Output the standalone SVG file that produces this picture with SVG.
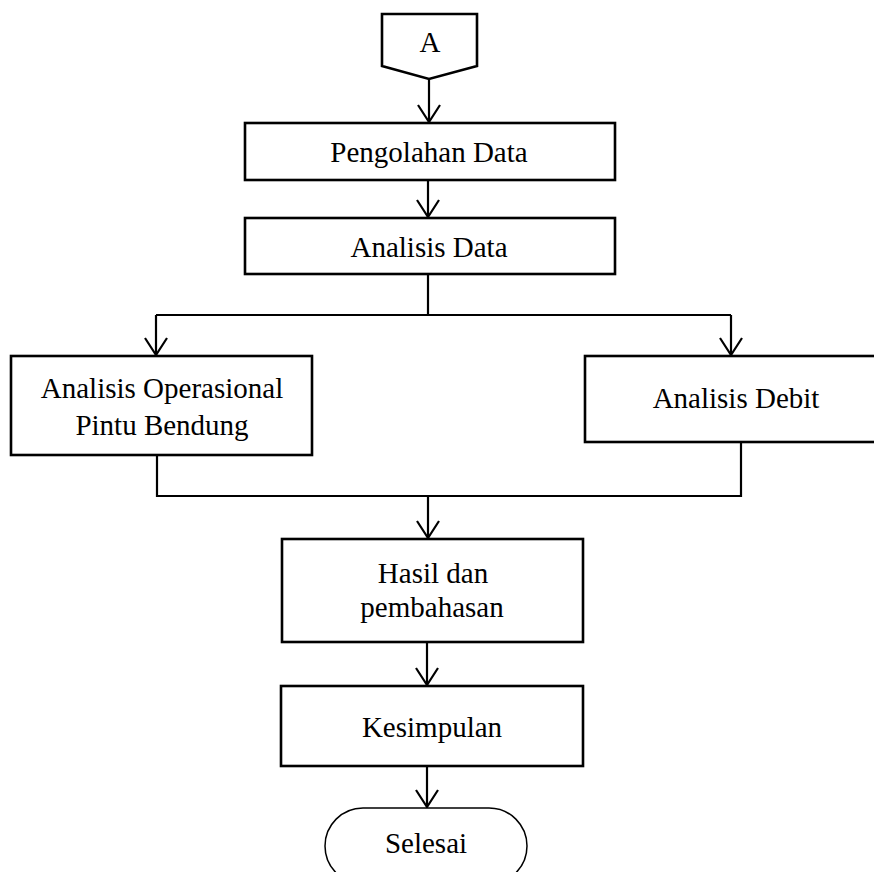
<svg xmlns="http://www.w3.org/2000/svg" width="874" height="872" viewBox="0 0 874 872">
<style>
.n{fill:#fff;stroke:#000;stroke-width:2.6}
.t{font-family:"Liberation Serif","Times New Roman",serif;font-size:29px;fill:#000;text-anchor:middle}
.c{fill:none;stroke:#000;stroke-width:2.2}
</style>
<defs>
<marker id="ah" markerUnits="userSpaceOnUse" markerWidth="24" markerHeight="28" viewBox="-20 -14 24 28" refX="0" refY="0" orient="auto">
<path d="M-17,-11 L0,0 L-17,11" fill="none" stroke="#000" stroke-width="2.2"/>
</marker>
</defs>
<rect width="874" height="872" fill="#fff"/>
<g id="connectors">
<path class="c" d="M429,79 V122" marker-end="url(#ah)"/>
<path class="c" d="M428,180 V217" marker-end="url(#ah)"/>
<path class="c" d="M428,274 V315"/>
<path class="c" d="M156,315 H731"/>
<path class="c" d="M156,315 V355" marker-end="url(#ah)"/>
<path class="c" d="M731,315 V355" marker-end="url(#ah)"/>
<path class="c" d="M157,455 V496 H741 V442"/>
<path class="c" d="M428,496 V538" marker-end="url(#ah)"/>
<path class="c" d="M427,642 V685" marker-end="url(#ah)"/>
<path class="c" d="M427,766 V807" marker-end="url(#ah)"/>
</g>
<g id="nA">
<polygon class="n" points="382,14 477,14 477,66 429,79 382,66"/>
<text class="t" x="430" y="52">A</text>
</g>
<g id="nPengolahan">
<rect class="n" x="245" y="123" width="370" height="57"/>
<text class="t" x="429" y="162">Pengolahan Data</text>
</g>
<g id="nAnalisisData">
<rect class="n" x="245" y="218" width="370" height="56"/>
<text class="t" x="429" y="257">Analisis Data</text>
</g>
<g id="nOperasional">
<rect class="n" x="11" y="356" width="301" height="99"/>
<text class="t" x="162" y="398">Analisis Operasional</text>
<text class="t" x="162" y="435">Pintu Bendung</text>
</g>
<g id="nDebit">
<rect class="n" x="585" y="356" width="305" height="86"/>
<text class="t" x="736" y="408">Analisis Debit</text>
</g>
<g id="nHasil">
<rect class="n" x="282" y="539" width="301" height="103"/>
<text class="t" x="433" y="583">Hasil dan</text>
<text class="t" x="432" y="617">pembahasan</text>
</g>
<g id="nKesimpulan">
<rect class="n" x="281" y="686" width="302" height="80"/>
<text class="t" x="432" y="737">Kesimpulan</text>
</g>
<g id="nSelesai">
<rect x="325" y="808" width="202" height="76" rx="38" ry="38" fill="#fff" stroke="#000" stroke-width="1.5"/>
<text class="t" x="426" y="853">Selesai</text>
</g>
</svg>
